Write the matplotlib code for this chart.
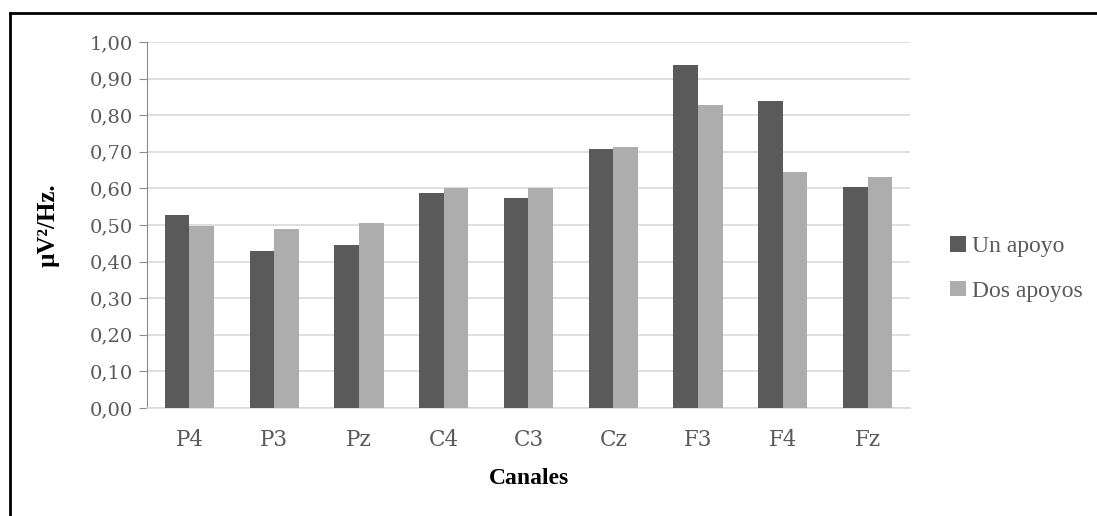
import matplotlib.pyplot as plt
import numpy as np
from matplotlib.lines import Line2D

# Data
canales = ['P4', 'P3', 'Pz', 'C4', 'C3', 'Cz', 'F3', 'F4', 'Fz']
un_apoyo = [0.527, 0.429, 0.444, 0.587, 0.575, 0.707, 0.937, 0.839, 0.603]
dos_apoyos = [0.498, 0.488, 0.505, 0.602, 0.602, 0.712, 0.828, 0.646, 0.630]
y_ticks = [0.0, 0.1, 0.2, 0.3, 0.4, 0.5, 0.6, 0.7, 0.8, 0.9, 1.0]

dark = '#5a5a5a'
light = '#adadad'
text_gray = '#595959'

fig = plt.figure(figsize=(10.97, 5.16), dpi=100)
ax = fig.add_axes([147 / 1097, 108 / 516, 763 / 1097, 366 / 516])

x = np.arange(len(canales))
w = 0.29
ax.bar(x - w / 2, un_apoyo, w, color=dark, label='Un apoyo', zorder=3)
ax.bar(x + w / 2, dos_apoyos, w, color=light, label='Dos apoyos', zorder=3)

ax.set_xlim(-0.5, len(canales) - 0.5)
ax.set_ylim(0, 1.0)
ax.set_yticks(y_ticks)
ax.set_yticklabels([f'{v:.2f}'.replace('.', ',') for v in y_ticks])
ax.set_xticks(x)
ax.set_xticklabels(canales)

ax.grid(axis='y', color='#d9d9d9', linewidth=1.2, zorder=0)
for side in ['top', 'right']:
    ax.spines[side].set_visible(False)
ax.spines['left'].set_color('#8c8c8c')
ax.spines['bottom'].set_color('#d9d9d9')
ax.spines['bottom'].set_linewidth(1.2)

ax.tick_params(axis='y', length=6, color='#8c8c8c', labelcolor=text_gray,
               labelsize=14, pad=4)
ax.tick_params(axis='x', length=0, labelcolor=text_gray, labelsize=15.5, pad=15)
for lab in ax.get_yticklabels() + ax.get_xticklabels():
    lab.set_family('DejaVu Serif')

ax.set_xlabel('Canales', family='Liberation Serif', fontweight='bold',
              fontsize=17, labelpad=12)
ax.set_ylabel('µV²/Hz.', family='Liberation Serif', fontweight='bold',
              fontsize=18, labelpad=22)

leg = ax.legend(loc='center left', bbox_to_anchor=(1.025, 0.38), frameon=False,
                prop={'family': 'Liberation Serif', 'size': 17},
                handlelength=0.65, handleheight=0.65, handletextpad=0.25,
                labelspacing=1.0)
for t in leg.get_texts():
    t.set_color(text_gray)

# outer frame of the chart
fig.add_artist(Line2D([10 / 1097, 10 / 1097], [0, 1 - 13 / 516],
                      transform=fig.transFigure, color='black', linewidth=2))
fig.add_artist(Line2D([10 / 1097, 1], [1 - 13 / 516, 1 - 13 / 516],
                      transform=fig.transFigure, color='black', linewidth=2))

fig.savefig('out.png', dpi=100)
